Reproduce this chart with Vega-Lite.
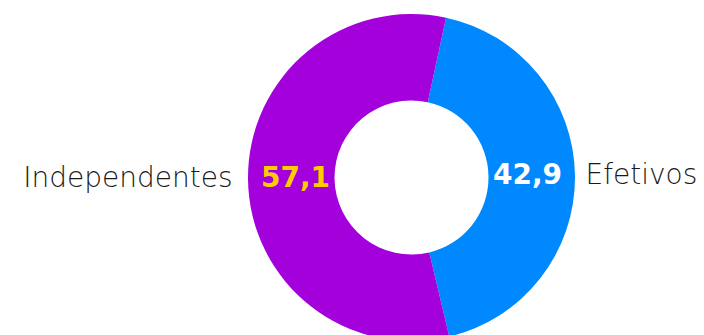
{
  "$schema": "https://vega.github.io/schema/vega-lite/v6.json",
  "width": 585,
  "height": 315,
  "autosize": "none",
  "padding": {"left": 119, "top": 20, "right": 0, "bottom": 0},
  "background": "white",
  "data": {"values": [
    {"cat": "Efetivos", "value": 42.9, "label": "42,9"},
    {"cat": "Independentes", "value": 57.1, "label": "57,1"}
  ]},
  "encoding": {
    "theta": {"field": "value", "type": "quantitative", "stack": true, "scale": {"range": [0.213, 6.4962]}},
    "order": {"field": "cat", "type": "nominal", "sort": "ascending"}
  },
  "layer": [
    {
      "mark": {"type": "arc", "outerRadius": 163.5, "innerRadius": 77},
      "encoding": {
        "color": {"field": "cat", "type": "nominal", "scale": {"domain": ["Efetivos", "Independentes"], "range": ["#0088ff", "#a300dc"]}, "legend": null}
      }
    },
    {
      "mark": {"type": "text", "radius": 116, "font": "DejaVu Sans", "fontWeight": "bold", "fontSize": 28, "baseline": "middle", "align": "center"},
      "encoding": {
        "text": {"field": "label"},
        "color": {"field": "cat", "type": "nominal", "scale": {"domain": ["Efetivos", "Independentes"], "range": ["#ffffff", "#ffcc00"]}, "legend": null}
      }
    },
    {
      "mark": {"type": "text", "radius": 174, "font": "DejaVu Sans", "fontWeight": 200, "fontSize": 28, "baseline": "middle", "align": "left", "color": "#1a1a1a"},
      "encoding": {
        "text": {"condition": {"test": "datum.cat === 'Efetivos'", "field": "cat"}, "value": ""}
      }
    },
    {
      "mark": {"type": "text", "radius": 179, "font": "DejaVu Sans", "fontWeight": 200, "fontSize": 28, "baseline": "middle", "align": "right", "color": "#1a1a1a"},
      "encoding": {
        "text": {"condition": {"test": "datum.cat === 'Independentes'", "field": "cat"}, "value": ""}
      }
    }
  ],
  "resolve": {"scale": {"color": "independent"}},
  "config": {"view": {"stroke": null}}
}
